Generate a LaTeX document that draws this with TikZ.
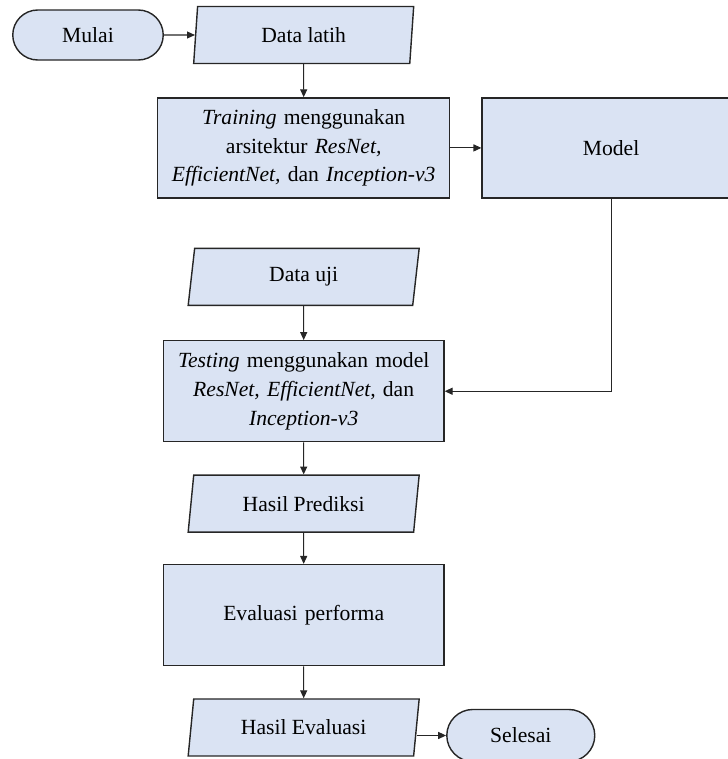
\documentclass[tikz,border=0pt]{standalone}
\usepackage{fontspec}
\setmainfont{Liberation Serif}
\usepackage{tikz}
\usetikzlibrary{arrows.meta, positioning, shapes.geometric, shapes.misc}
\definecolor{flowFill}{HTML}{DAE3F3}
\definecolor{flowLine}{HTML}{262626}

\begin{document}
\begin{tikzpicture}[
    node distance=0.67cm,
    font=\fontsize{12.3}{16.3}\selectfont,
    terminal/.style={rounded rectangle, draw=flowLine, fill=flowFill, line width=0.8pt,
                 minimum width=3.15cm, minimum height=1cm, inner sep=2pt},
    process/.style={rectangle, draw=flowLine, fill=flowFill, line width=0.8pt,
                 minimum width=5.6cm, minimum height=2.02cm, align=center,
                 text width=5.4cm, inner sep=3pt},
    io/.style={trapezium, trapezium left angle=76, trapezium right angle=104,
                 trapezium stretches body, draw=flowLine, fill=flowFill, line width=0.8pt,
                 minimum width=4.62cm, minimum height=1.14cm, inner sep=2pt},
    flow/.style={-{Triangle[length=4.5pt, width=4pt]}, draw=flowLine, line width=0.6pt},
  ]
    \clip (-1.76,0.7) rectangle (12.8,-14.48);

    \node[terminal] (mulai) {Mulai};
    \node[io, trapezium left angle=80, trapezium right angle=100, minimum width=4.4cm,
          right=0.62cm of mulai] (latih) {Data latih};
    \node[process, minimum width=5.84cm, text width=5.6cm, minimum height=2cm,
          below=0.66cm of latih] (training)
      {\textit{Training} menggunakan\\ arsitektur \textit{ResNet,}\\ \textit{EfficientNet,} dan \textit{Inception-v3}};
    \node[process, minimum width=5.16cm, text width=4.9cm, minimum height=2cm,
          right=0.62cm of training] (model) {Model};

    \node[io, below=0.98cm of training] (uji) {Data uji};
    \node[process, below=0.68cm of uji] (testing)
      {\textit{Testing} menggunakan model\\ \textit{ResNet, EfficientNet,} dan\\ \textit{Inception-v3}};
    \node[io, below=0.64cm of testing] (prediksi) {Hasil Prediksi};
    \node[process, below=0.62cm of prediksi] (evaluasi) {Evaluasi performa};
    \node[io, below=0.64cm of evaluasi] (hasil) {Hasil Evaluasi};
    \node[terminal, minimum width=3.1cm, minimum height=1.04cm, anchor=west]
      (selesai) at ([xshift=0.58cm, yshift=-0.16cm]hasil.east) {Selesai};

    \draw[flow] (mulai) -- (latih);
    \draw[flow] (latih) -- (training);
    \draw[flow] (training) -- (model);
    \draw[flow] (model.south) |- (testing.east);
    \draw[flow] (uji) -- (testing);
    \draw[flow] (testing) -- (prediksi);
    \draw[flow] (prediksi) -- (evaluasi);
    \draw[flow] (evaluasi) -- (hasil);
    \draw[flow] (hasil.east |- selesai.west) -- (selesai.west);
  \end{tikzpicture}
\end{document}
